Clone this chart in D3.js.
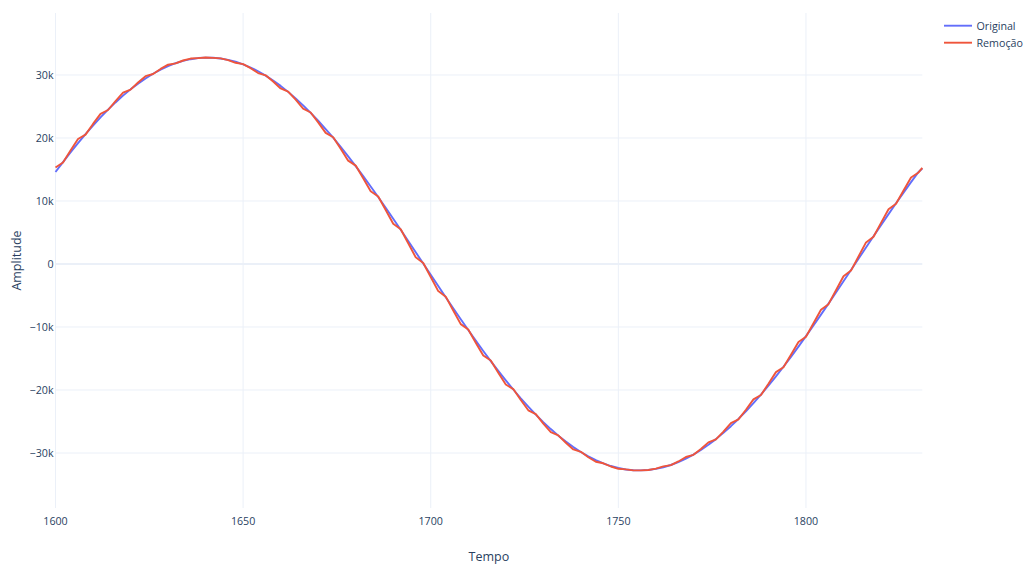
<!DOCTYPE html>
<html>
<head>
<meta charset="utf-8">
<script src="https://cdn.jsdelivr.net/npm/d3@7"></script>
<style>
  html, body { margin: 0; padding: 0; background: #fff; }
  svg { display: block; font-family: "Open Sans", "Noto Sans", sans-serif; }
</style>
</head>
<body>
<svg id="chart" width="1026" height="565"></svg>
<script>
// Sample positions (Tempo)
const tempo = [1600,1602,1604,1606,1608,1610,1612,1614,1616,1618,1620,1622,1624,1626,1628,1630,1632,1634,1636,1638,
  1640,1642,1644,1646,1648,1650,1652,1654,1656,1658,1660,1662,1664,1666,1668,1670,1672,1674,1676,1678,
  1680,1682,1684,1686,1688,1690,1692,1694,1696,1698,1700,1702,1704,1706,1708,1710,1712,1714,1716,1718,
  1720,1722,1724,1726,1728,1730,1732,1734,1736,1738,1740,1742,1744,1746,1748,1750,1752,1754,1756,1758,
  1760,1762,1764,1766,1768,1770,1772,1774,1776,1778,1780,1782,1784,1786,1788,1790,1792,1794,1796,1798,
  1800,1802,1804,1806,1808,1810,1812,1814,1816,1818,1820,1822,1824,1826,1828,1830,1831];

// Original signal
const original = [14597,16177,17707,19185,20608,21967,23268,24500,25644,26722,27718,28629,29454,30195,30844,31404,31866,32236,32508,32686,
  32763,32743,32625,32410,32099,31692,31189,30596,29906,29130,28270,27321,26288,25179,23990,22739,21424,20044,18594,17090,
  15541,13940,12301,10623,8917,7182,5424,3647,1863,74,-1714,-3499,-5272,-7032,-8768,-10479,-12160,-13801,-15407,-16963,
  -18471,-19923,-21312,-22639,-23903,-25096,-26204,-27246,-28193,-29064,-29844,-30539,-31142,-31653,-32069,-32387,-32611,-32737,-32765,-32695,
  -32528,-32264,-31904,-31446,-30897,-30255,-29523,-28704,-27797,-26808,-25741,-24597,-23380,-22082,-20725,-19312,-17839,-16310,-14733,-13113,
  -11454,-9760,-8038,-6285,-4521,-2742,-955,835,2622,4402,6168,7916,9639,11332,13000,14614,15150];

// Signal after removal (Remoção)
const remocao = [15318,16099,18008,19838,20538,22233,23835,24441,25867,27188,27670,28803,29807,30160,30965,31634,31845,32300,32609,32680,
  32767,32712,32633,32357,31937,31715,31079,30308,29943,28966,27862,27370,26074,24663,24051,22481,20815,20115,18299,16402,
  15620,13616,11554,10708,8573,6396,5512,3291,1058,164,-2072,-4300,-5184,-7382,-9544,-10394,-12492,-14532,-15328,-17269,
  -19136,-19852,-21584,-23221,-23842,-25326,-26687,-27196,-28375,-29436,-29807,-30669,-31392,-31630,-32143,-32509,-32602,-32753,-32756,-32701,
  -32485,-32124,-31924,-31345,-30629,-30289,-29368,-28315,-27844,-26602,-25242,-24656,-23129,-21487,-20794,-19023,-17163,-16388,-14413,-12375,
  -11538,-9418,-7257,-6373,-4167,-1939,-1045,1193,3425,4313,6520,8698,9553,11668,13740,14534,15250];

const xTicks = [1600, 1650, 1700, 1750, 1800];
const yTicks = [-30000, -20000, -10000, 0, 10000, 20000, 30000];

const seriesNames = ["Original", "Remoção"];
const seriesColors = ["#636efa", "#EF553B"];

const svg = d3.select("#chart");
const plotLeft = 55.5, plotRight = 922.3, plotTop = 13, plotBottom = 508;
const textColor = "#2a3f5f";
const gridColor = "#EBF0F8";
const tickFont = 10.7, titleFont = 12.5;

const x = d3.scaleLinear().domain([1600, 1831]).range([plotLeft, plotRight]);
const y = d3.scaleLinear().domain([-38730, 39840]).range([plotBottom, plotTop]);

// Gridlines
const gx = svg.append("g");
gx.selectAll("line.v").data(xTicks).join("line").attr("class", "v")
  .attr("x1", d => x(d)).attr("x2", d => x(d))
  .attr("y1", plotTop).attr("y2", plotBottom)
  .attr("stroke", gridColor).attr("stroke-width", 1);
gx.selectAll("line.h").data(yTicks).join("line").attr("class", "h")
  .attr("x1", plotLeft).attr("x2", plotRight)
  .attr("y1", d => y(d)).attr("y2", d => y(d))
  .attr("stroke", gridColor).attr("stroke-width", d => d === 0 ? 1.8 : 1);

// Tick labels
const fmtY = d => d === 0 ? "0" : (d < 0 ? "\u2212" : "") + Math.abs(d / 1000) + "k";
svg.append("g").selectAll("text").data(yTicks).join("text")
  .attr("x", 53.5).attr("y", d => y(d)).attr("dy", "0.35em")
  .attr("text-anchor", "end").attr("font-size", tickFont).attr("fill", textColor)
  .text(fmtY);
svg.append("g").selectAll("text").data(xTicks).join("text")
  .attr("x", d => x(d)).attr("y", 525)
  .attr("text-anchor", "middle").attr("font-size", tickFont).attr("fill", textColor)
  .text(d => d);

// Axis titles
svg.append("text").attr("x", (plotLeft + plotRight) / 2).attr("y", 560.5)
  .attr("text-anchor", "middle").attr("font-size", titleFont).attr("fill", textColor).text("Tempo");
svg.append("text").attr("transform", `translate(20.5,${(plotTop + plotBottom) / 2}) rotate(-90)`)
  .attr("text-anchor", "middle").attr("font-size", titleFont).attr("fill", textColor).text("Amplitude");

// Lines
const line = d3.line().x((d, i) => x(tempo[i])).y(d => y(d));
const plot = svg.append("g");
[original, remocao].forEach((vals, i) => {
  plot.append("path").datum(vals)
    .attr("d", line)
    .attr("fill", "none")
    .attr("stroke", seriesColors[i])
    .attr("stroke-width", 1.9)
    .attr("stroke-linejoin", "round");
});

// Legend
const legend = svg.append("g");
seriesNames.forEach((name, i) => {
  const ly = 25.7 + i * 17;
  legend.append("line").attr("x1", 944).attr("x2", 972)
    .attr("y1", ly).attr("y2", ly)
    .attr("stroke", seriesColors[i]).attr("stroke-width", 1.9);
  legend.append("text").attr("x", 976.5).attr("y", ly).attr("dy", "0.36em")
    .attr("font-size", tickFont).attr("fill", textColor).text(name);
});
</script>
</body>
</html>
